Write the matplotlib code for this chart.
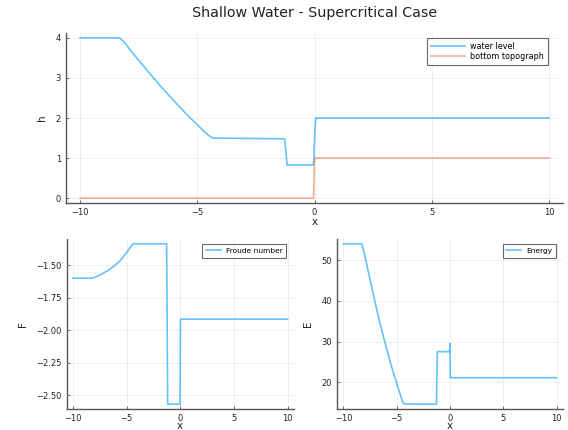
import matplotlib
matplotlib.use("Agg")
import matplotlib.pyplot as plt

# water level (h + b) and bottom topography
wl_x = [-10, -8.32, -8.1, -7.8, -7.5, -7.0, -6.5, -6.0, -5.5, -5.0, -4.7, -4.5, -4.35,
        -1.27, -1.17, -0.04, 0.02, 0.06, 10]
wl_y = [4.0, 4.0, 3.88, 3.65, 3.44, 3.09, 2.75, 2.43, 2.12, 1.83, 1.66, 1.56, 1.50,
        1.48, 0.83, 0.83, 1.75, 2.0, 2.0]
bt_x = [-10, -0.04, 0.0, 10]
bt_y = [0.0, 0.0, 1.0, 1.0]

# Froude number
fr_x = [-10, -8.23, -7.9, -7.46, -7.0, -6.52, -6.05, -5.59, -4.97, -4.41,
        -1.27, -1.17, -0.02, 0.02, 10]
fr_y = [-1.60, -1.60, -1.59, -1.574, -1.553, -1.528, -1.498, -1.464, -1.40, -1.335,
        -1.335, -2.57, -2.57, -1.915, -1.915]

# Energy
en_x = [-10, -8.28, -8.1, -7.9, -7.5, -7.0, -6.5, -6.0, -5.5, -5.0, -4.6, -4.45, -4.35, -4.2,
        -1.27, -1.19, -0.05, 0.0, 0.02, 10]
en_y = [54.0, 54.0, 52.3, 50.0, 45.2, 39.3, 33.8, 28.7, 24.0, 19.7, 16.4, 15.2, 14.8, 14.65,
        14.6, 27.5, 27.5, 29.5, 21.1, 21.1]

x_ticks = [-10, -5, 0, 5, 10]
h_ticks = [0, 1, 2, 3, 4]
f_ticks = [-2.5, -2.25, -2.0, -1.75, -1.5]
e_ticks = [20, 30, 40, 50]

BLUE = "#009af9"
ORANGE = "#e26f46"
W, H = 568, 430

fig = plt.figure(figsize=(W / 100, H / 100), dpi=100)


def px_axes(l, t, r, b):
    return fig.add_axes([l / W, 1 - b / H, (r - l) / W, (b - t) / H])


def style(ax, yticks, yfmt, ylabel, xpad):
    ax.margins(0.03)
    for s in ("top", "right"):
        ax.spines[s].set_visible(False)
    for s in ("left", "bottom"):
        ax.spines[s].set_color("#555555")
        ax.spines[s].set_linewidth(1.0)
    ax.set_xticks(x_ticks)
    ax.set_xticklabels([str(v).replace("-", "\u2212") for v in x_ticks])
    ax.set_yticks(yticks)
    ax.set_yticklabels([yfmt(v).replace("-", "\u2212") for v in yticks])
    ax.tick_params(direction="in", length=2, width=0.6, color="#555555",
                   labelsize=6, labelcolor="#222222", pad=3.5)
    ax.grid(True, color="black", alpha=0.07, linewidth=0.6)
    ax.set_xlabel("x", fontsize=7.5, color="#222222", labelpad=xpad)
    ax.set_ylabel(ylabel, fontsize=7.5, color="#222222", labelpad=6)


def legend(ax, x, hl, fs):
    lg = ax.legend(loc="upper right", bbox_to_anchor=(x, 0.97), fontsize=fs,
                   fancybox=False, frameon=True, handlelength=hl,
                   borderpad=0.5, labelspacing=0.05, handletextpad=0.6,
                   borderaxespad=0)
    lg.get_frame().set_edgecolor("#444444")
    lg.get_frame().set_linewidth(0.8)


# top panel
ax1 = px_axes(66, 33, 563, 203)
ax1.plot(wl_x, wl_y, color=BLUE, alpha=0.6, lw=1.2, label="water level")
ax1.plot(bt_x, bt_y, color=ORANGE, alpha=0.55, lw=1.2, label="bottom topograph")
style(ax1, h_ticks, lambda v: str(v), "h", 0)
legend(ax1, 0.97, 4.3, 5.8)
fig.text(314.5 / W, 1 - 13 / H, "Shallow Water - Supercritical Case",
         ha="center", va="center", fontsize=10.3, color="#222222")

# bottom left
ax2 = px_axes(66.5, 239, 294, 409)
ax2.plot(fr_x, fr_y, color=BLUE, alpha=0.6, lw=1.2, label="Froude number")
style(ax2, f_ticks, lambda v: f"{v:.2f}", "F", -1)
legend(ax2, 0.965, 2.0, 5.4)

# bottom right
ax3 = px_axes(337, 239, 563, 409)
ax3.plot(en_x, en_y, color=BLUE, alpha=0.6, lw=1.2, label="Energy")
style(ax3, e_ticks, lambda v: str(v), "E", -1)
legend(ax3, 0.969, 2.0, 5.4)

fig.savefig("out.png", dpi=100, facecolor="white")
